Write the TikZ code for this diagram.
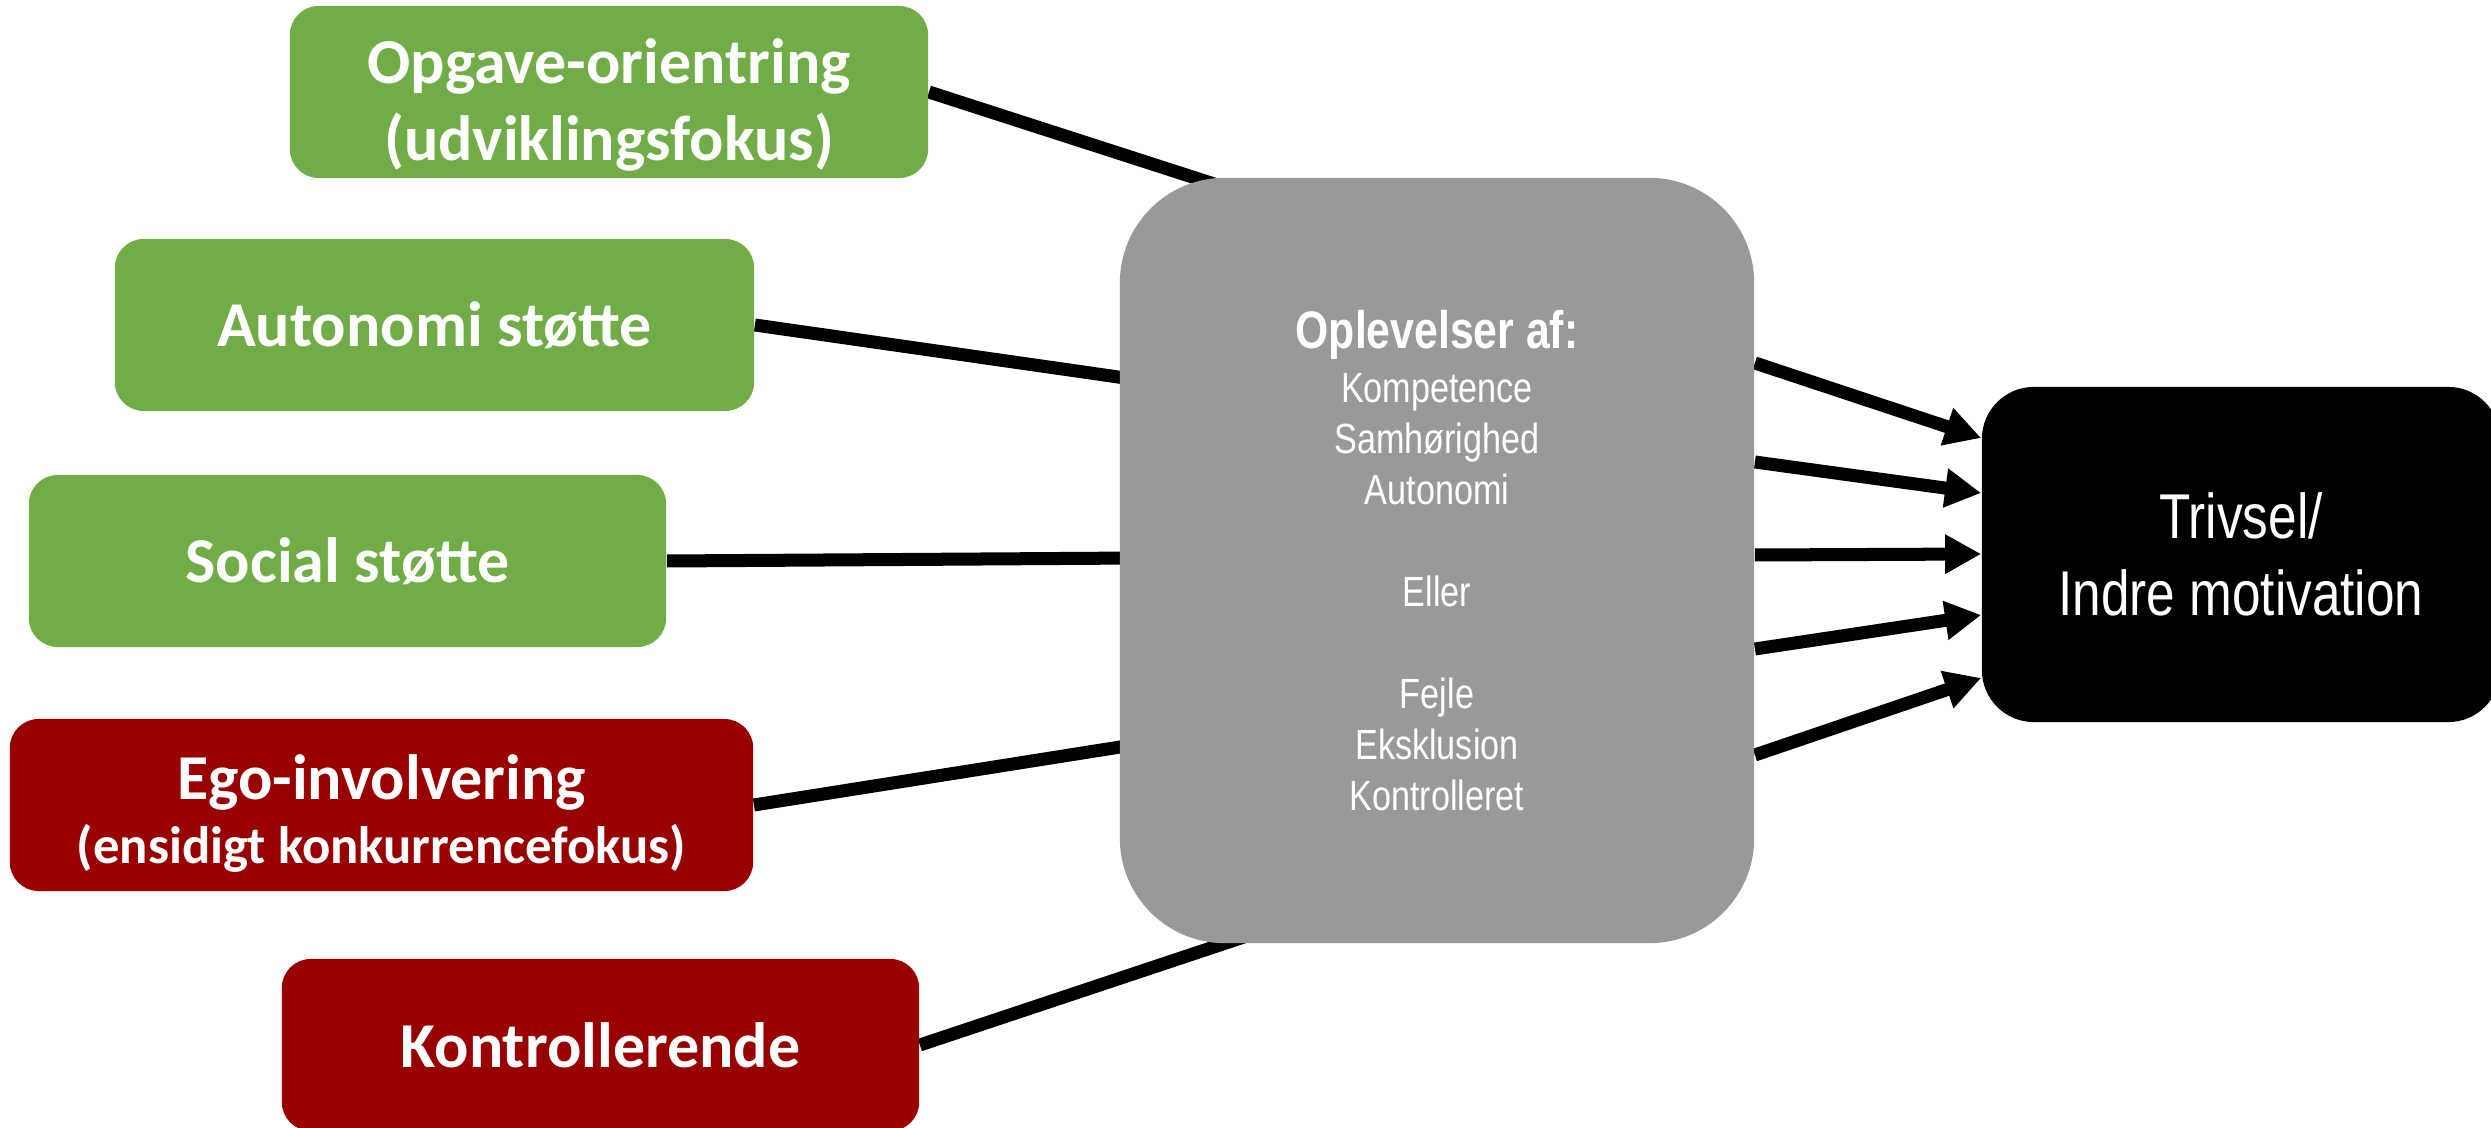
\documentclass[tikz,border=0pt]{standalone}
\usepackage{fontspec}
\setmainfont{Liberation Sans}
\newfontfamily\carlito{Carlito}
\newfontfamily\narrowsans[FakeStretch=0.81]{Liberation Sans}
\usetikzlibrary{arrows.meta,calc}
\pgfdeclarelayer{bg}
\pgfsetlayers{bg,main}
\definecolor{boxgreen}{HTML}{70AD47}
\definecolor{boxred}{HTML}{990000}
\definecolor{boxgray}{HTML}{999999}
\tikzset{
  lbox/.style={rounded corners=0.29cm, inner sep=0pt, minimum height=1.72cm,
    text=white, align=center, font=\carlito\bfseries\fontsize{18.2}{21.8}\selectfont},
  greenbox/.style={lbox, fill=boxgreen},
  redbox/.style={lbox, fill=boxred},
  midbox/.style={rounded corners=1.05cm, fill=boxgray, inner sep=0pt,
    minimum width=6.34cm, minimum height=7.65cm, text=white, align=center,
    font=\narrowsans\fontsize{12}{14.5}\selectfont},
  endbox/.style={rounded corners=0.52cm, fill=black, inner sep=0pt,
    minimum width=5.18cm, minimum height=3.35cm, text=white, align=center,
    font=\narrowsans\fontsize{18}{21.9}\selectfont},
  conn/.style={line width=0.13cm},
  arr/.style={conn, -{Triangle[length=0.36cm,width=0.37cm]}}
}
\begin{document}
\begin{tikzpicture}[x=0.01cm,y=-0.01cm]
\useasboundingbox (0,0) rectangle (2491,1128);
\clip (0,0) rectangle (2491,1128);

\node[greenbox, minimum width=6.38cm] (opg) at (609,92) {\rule{0pt}{20pt}Opgave-orientring\\(udviklingsfokus)};
\node[greenbox, minimum width=6.39cm] (aut) at (434.5,325) {Autonomi støtte};
\node[greenbox, minimum width=6.37cm] (soc) at (347.5,561) {Social støtte};
\node[redbox, minimum width=7.43cm] (ego) at (381.5,805) {\rule{0pt}{17.5pt}Ego-involvering\\[-3.5pt]{\fontsize{15}{18}\selectfont (ensidigt konkurrencefokus)}};
\node[redbox, minimum width=6.37cm] (kon) at (600.5,1045) {Kontrollerende};

\node[midbox] (gray) at (1437,560.5) {{\bfseries\fontsize{15}{18}\selectfont Oplevelser af:}\\[0.7pt]
Kompetence\\Samhørighed\\Autonomi\\[14.5pt]Eller\\[14.5pt]Fejle\\Eksklusion\\Kontrolleret};

\node[endbox] (res) at (2241,554.5) {Trivsel/\\Indre motivation};

\begin{pgfonlayer}{bg}
\draw[conn] (opg.east) -- ($(gray.north west)+(120,15)$);
\draw[conn] (aut.east) -- ($(gray.west |- 0,377)+(20,3)$);
\draw[conn] (soc.east) -- ($(gray.west |- 0,558)+(20,0)$);
\draw[conn] (ego.east) -- ($(gray.west |- 0,747)+(20,-3)$);
\draw[conn] (kon.east) -- ($(gray.south west)+(140,-12)$);

\draw[arr] (gray.east |- 0,363) -- (res.west |- 0,438);
\draw[arr] (gray.east |- 0,462) -- (res.west |- 0,493);
\draw[arr] (gray.east |- 0,555) -- (res.west |- 0,554);
\draw[arr] (gray.east |- 0,649) -- (res.west |- 0,615);
\draw[arr] (gray.east |- 0,755) -- (res.west |- 0,678);
\end{pgfonlayer}
\end{tikzpicture}
\end{document}
